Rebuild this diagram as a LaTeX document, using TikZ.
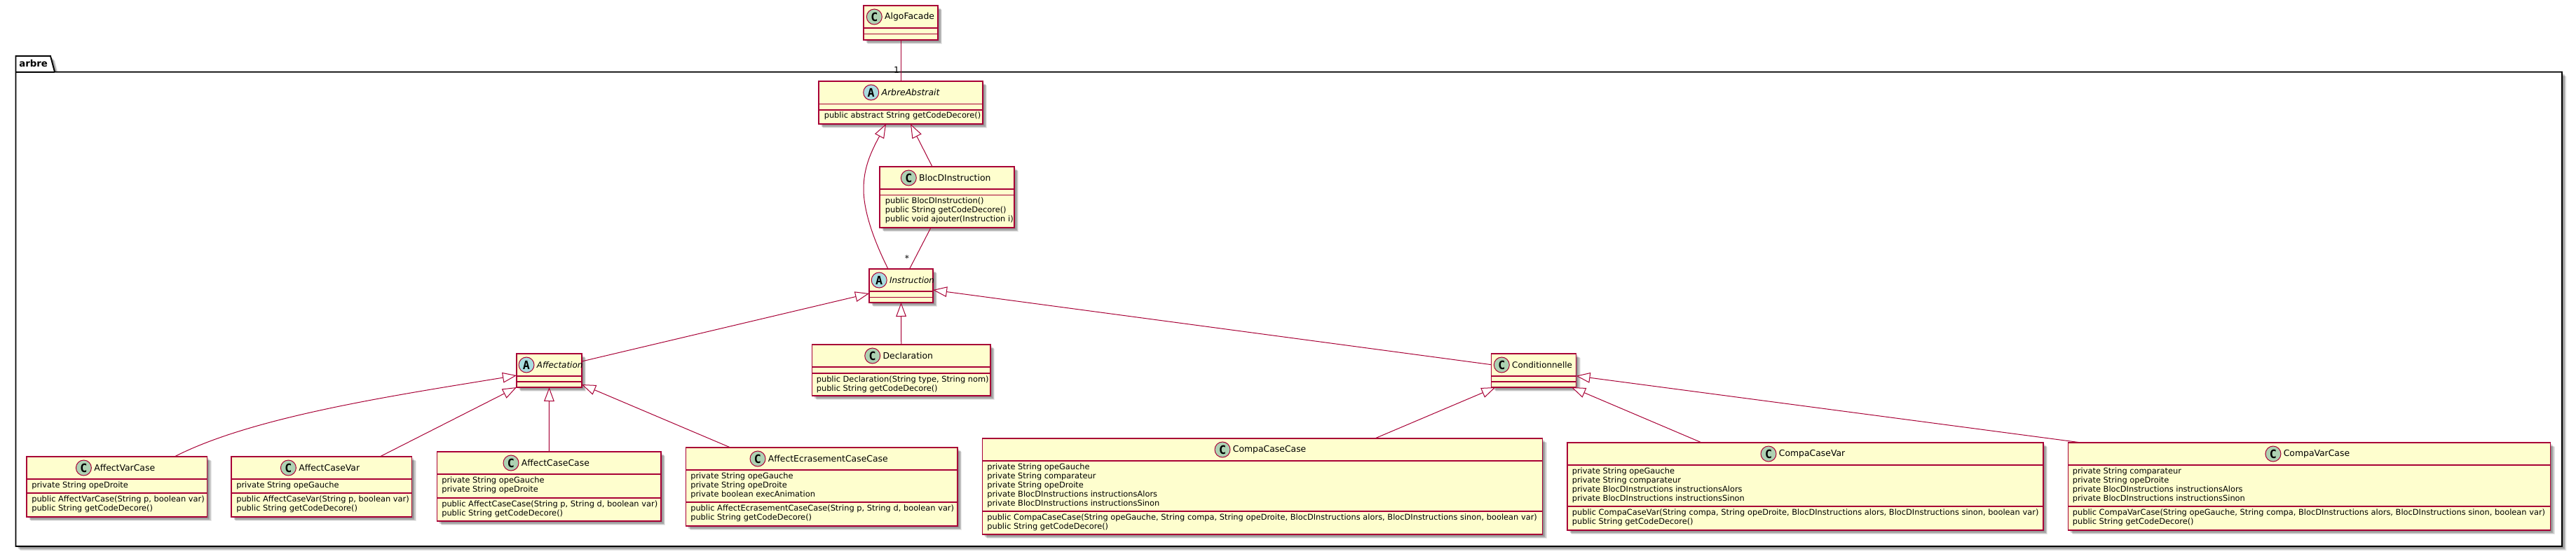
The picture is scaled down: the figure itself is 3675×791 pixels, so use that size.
\documentclass[tikz,border=0pt]{standalone}
\usepackage{fontspec}
\setmainfont{DejaVu Sans}
\newfontfamily\lettermono{DejaVu Sans Mono}
\usetikzlibrary{arrows.meta,shadows}
\definecolor{umlline}{HTML}{A80036}
\definecolor{umlfill}{HTML}{FEFECE}
\definecolor{spotC}{HTML}{ADD1B2}
\definecolor{spotA}{HTML}{A9DCDF}
\tikzset{
  x=0.75pt,y=-0.75pt,
  softshadow/.style={
    general shadow={shadow xshift=1.8pt,shadow yshift=-1.8pt,fill=black,opacity=.12},
    general shadow={shadow xshift=2.8pt,shadow yshift=-2.8pt,fill=black,opacity=.16},
    general shadow={shadow xshift=3.8pt,shadow yshift=-3.8pt,fill=black,opacity=.14},
    general shadow={shadow xshift=4.8pt,shadow yshift=-4.8pt,fill=black,opacity=.08}},
  umlbox/.style={draw=umlline,fill=umlfill,line width=1.1pt,inner sep=0pt,outer sep=0pt,softshadow},
  divider/.style={draw=umlline,line width=1.1pt},
  spot/.style={circle,draw=umlline,line width=.75pt,inner sep=0pt,minimum size=16.5pt,font=\fontsize{12.5pt}{13pt}\lettermono\bfseries},
  titletext/.style={anchor=west,inner sep=0pt,font=\fontsize{9.3pt}{12pt}\selectfont},
  memberstext/.style={anchor=north west,inner sep=0pt,align=left,font=\fontsize{8.55pt}{9.75pt}\selectfont},
  assoc/.style={draw=umlline,line width=.75pt},
  inherit/.style={draw=umlline,line width=.75pt,-{Triangle[open,fill=white,length=15pt,width=11pt]}},
  cardinal/.style={inner sep=0pt,font=\fontsize{9.3pt}{12pt}\selectfont},
}
\newcommand{\narrowtitle}{\fontsize{8.95pt}{12pt}\selectfont}
\newcommand{\umlclass}[9]{% name, cx, cy, w, h, div1, div2, spotkind, iconx
  \node[umlbox,minimum width=#4*0.75pt,minimum height=#5*0.75pt] (#1) at (#2,#3) {};
  \draw[divider] (#1.west |- 0,#6) -- (#1.east |- 0,#6);
  \draw[divider] (#1.west |- 0,#7) -- (#1.east |- 0,#7);
  \pgfmathsetmacro{\spoty}{#3-#5/2+16}
  \node[spot,fill=spot#8] (#1-spot) at (#9,\spoty) {#8};
  \umltitle{#1}{#9}{\spoty}%
}
\newcommand{\umltitle}[3]{\def\curname{#1}\pgfmathsetmacro{\curtx}{#2+14.6}\def\curty{#3}\umltitlei}
\newcommand{\umltitlei}[1]{\node[titletext] (\curname-title) at (\curtx,\curty) {#1};}
\newcommand{\umlmembers}[4]{\node[memberstext] (#1) at (#2,#3) {#4};}
\begin{document}
\begin{tikzpicture}
\useasboundingbox (0,0) rectangle (3675,791);
\fill[white] (0,0) rectangle (3675,791);
% package
\draw[fill=white,draw=black,line width=1.4pt,softshadow]
  (22.5,102.7) -- (22.5,80) -- (72,80) -- (78,102.7) -- (3655,102.7) -- (3655,780) -- (22.5,780) -- cycle;
\draw[black,line width=1.4pt] (22.5,102.7) -- (78,102.7);
\node[inner sep=0pt,anchor=west,font=\fontsize{10pt}{12pt}\bfseries\selectfont] (pkgname) at (27,90.5) {arbre};
% classes
\umlclass{AlgoFacade}{1285}{32.5}{106}{49}{40}{48.5}{C}{1247.3}{AlgoFacade}
\umlclass{ArbreAbstrait}{1285}{146.5}{234}{61}{148.5}{157}{A}{1242.7}{\itshape ArbreAbstrait}
\umlmembers{ArbreAbstrait-m}{1175.5}{160}{public abstract String getCodeDecore()}
\umlclass{BlocDInstruction}{1351}{281.5}{192}{87}{270}{278.5}{C}{1296.3}{BlocDInstruction}
\umlmembers{BlocDInstruction-m}{1262.5}{282}{public BlocDInstruction()\\public String getCodeDecore()\\public void ajouter(Instruction i)}
\umlclass{Instruction}{1285.5}{408}{91}{48}{416}{424.3}{A}{1254.2}{\narrowtitle\itshape Instruction}
\umlclass{Declaration}{1285.75}{528.5}{254.5}{73}{524}{533}{C}{1244.7}{Declaration}
\umlmembers{Declaration-m}{1164.5}{536.5}{public Declaration(String type, String nom)\\public String getCodeDecore()}
\umlclass{Affectation}{783.5}{529}{93}{48}{537}{545}{A}{751}{\narrowtitle\itshape Affectation}
\umlclass{AffectVarCase}{166.75}{695}{257.5}{86}{684}{704}{C}{119.4}{AffectVarCase}
\umlmembers{AffectVarCase-a}{45}{687.5}{private String opeDroite}
\umlmembers{AffectVarCase-m}{45}{708}{public AffectVarCase(String p, boolean var)\\public String getCodeDecore()}
\umlclass{AffectCaseVar}{458.75}{695}{257.5}{86}{684}{704}{C}{411.4}{AffectCaseVar}
\umlmembers{AffectCaseVar-a}{337}{687.5}{private String opeGauche}
\umlmembers{AffectCaseVar-m}{337}{708}{public AffectCaseVar(String p, boolean var)\\public String getCodeDecore()}
\umlclass{AffectCaseCase}{783.25}{694.5}{319.5}{99}{677}{711}{C}{729}{AffectCaseCase}
\umlmembers{AffectCaseCase-a}{630}{681}{private String opeGauche\\private String opeDroite}
\umlmembers{AffectCaseCase-m}{630}{714.5}{public AffectCaseCase(String p, String d, boolean var)\\public String getCodeDecore()}
\umlclass{AffectEcrasementCaseCase}{1172.25}{695}{387.5}{112}{671}{717}{C}{1081}{AffectEcrasementCaseCase}
\umlmembers{AffectEcrasementCaseCase-a}{985}{675}{private String opeGauche\\private String opeDroite\\private boolean execAnimation}
\umlmembers{AffectEcrasementCaseCase-m}{985}{721}{public AffectEcrasementCaseCase(String p, String d, boolean var)\\public String getCodeDecore()}
\umlclass{Conditionnelle}{2188}{529}{121}{48}{537}{545}{C}{2142.3}{\narrowtitle Conditionnelle}
\umlclass{CompaCaseCase}{1801}{694.5}{799}{137}{658}{730}{C}{1744}{CompaCaseCase}
\umlmembers{CompaCaseCase-a}{1408}{661.5}{private String opeGauche\\private String comparateur\\private String opeDroite\\private BlocDInstructions instructionsAlors\\private BlocDInstructions instructionsSinon}
\umlmembers{CompaCaseCase-m}{1408}{733.5}{public CompaCaseCase(String opeGauche, String compa, String opeDroite, BlocDInstructions alors, BlocDInstructions sinon, boolean var)\\public String getCodeDecore()}
\umlclass{CompaCaseVar}{2575.25}{694.5}{679}{125}{664}{723}{C}{2523}{CompaCaseVar}
\umlmembers{CompaCaseVar-a}{2242.5}{668}{private String opeGauche\\private String comparateur\\private BlocDInstructions instructionsAlors\\private BlocDInstructions instructionsSinon}
\umlmembers{CompaCaseVar-m}{2242.5}{727}{public CompaCaseVar(String compa, String opeDroite, BlocDInstructions alors, BlocDInstructions sinon, boolean var)\\public String getCodeDecore()}
\umlclass{CompaVarCase}{3294.4}{694.5}{688}{125}{664}{723}{C}{3242.9}{CompaVarCase}
\umlmembers{CompaVarCase-a}{2956.5}{668}{private String comparateur\\private String opeDroite\\private BlocDInstructions instructionsAlors\\private BlocDInstructions instructionsSinon}
\umlmembers{CompaVarCase-m}{2956.5}{727}{public CompaVarCase(String opeGauche, String compa, BlocDInstructions alors, BlocDInstructions sinon, boolean var)\\public String getCodeDecore()}
% connectors
\draw[assoc] (AlgoFacade.south) -- (ArbreAbstrait.north);
\node[cardinal] (card1) at (1279,100) {1};
\draw[inherit] ([shift={(-18.5,0)}]Instruction.north) .. controls (1245,340) and (1232,300) .. (1232,270) .. controls (1232,240) and (1242,218) .. ([shift={(-21,0)}]ArbreAbstrait.south);
\draw[inherit] ([shift={(-21,0)}]BlocDInstruction.north) -- ([shift={(14,0)}]ArbreAbstrait.south);
\draw[assoc] ([shift={(-23,0)}]BlocDInstruction.south) -- ([shift={(12,0)}]Instruction.north);
\node[cardinal] (card2) at (1294,369) {*};
\draw[inherit] (Declaration.north) -- (Instruction.south);
\draw[inherit] ([shift={(0,-13)}]Affectation.east) -- ([shift={(0,11)}]Instruction.west);
\draw[inherit] ([shift={(0,-8.3)}]Conditionnelle.west) -- ([shift={(0,6)}]Instruction.east);
\draw[inherit] ([shift={(82.25,0)}]AffectVarCase.north) .. controls (360,595) and (560,565) .. ([shift={(0,7)}]Affectation.west);
\draw[inherit] ([shift={(83.25,0)}]AffectCaseVar.north) -- (Affectation.south west);
\draw[inherit] (AffectCaseCase.north) -- (Affectation.south);
\draw[inherit] ([shift={(-130.25,0)}]AffectEcrasementCaseCase.north) -- ([shift={(0,-4)}]Affectation.south east);
\draw[inherit] ([shift={(160.5,0)}]CompaCaseCase.north) -- ([shift={(6,0)}]Conditionnelle.south west);
\draw[inherit] ([shift={(-147.65,0)}]CompaCaseVar.north) -- ([shift={(-6.5,0)}]Conditionnelle.south east);
\draw[inherit] ([shift={(-325.4,0)}]CompaVarCase.north) -- ([shift={(0,7.7)}]Conditionnelle.east);
\end{tikzpicture}
\end{document}
